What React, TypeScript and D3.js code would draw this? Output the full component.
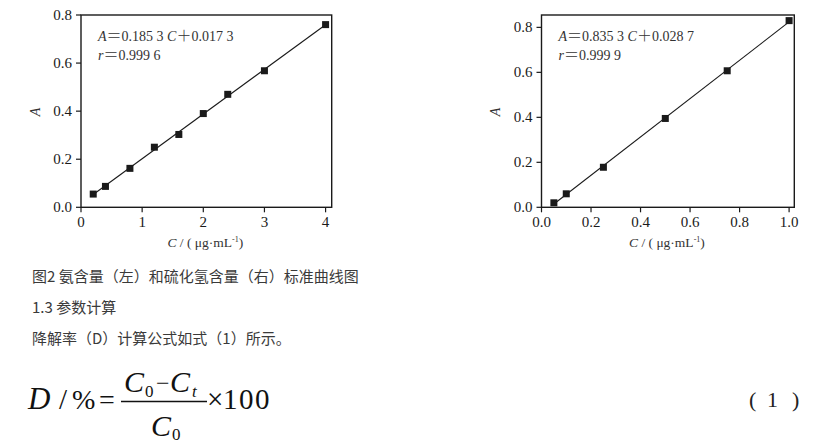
import React from "react";
import * as d3 from "d3";

const leftC = [0.2, 0.4, 0.8, 1.2, 1.6, 2.0, 2.4, 3.0, 4.0];
const leftA = [0.055, 0.087, 0.162, 0.25, 0.303, 0.39, 0.47, 0.568, 0.76];
const leftXTicks = [0, 1, 2, 3, 4];
const leftYTicks = [0, 0.2, 0.4, 0.6, 0.8];

const rightC = [0.05, 0.1, 0.25, 0.5, 0.75, 1.0];
const rightA = [0.02, 0.06, 0.178, 0.395, 0.607, 0.83];
const rightXTicks = [0, 0.2, 0.4, 0.6, 0.8, 1.0];
const rightYTicks = [0, 0.2, 0.4, 0.6, 0.8];

const SERIF = "'Liberation Serif', 'Times New Roman', serif";
const SANS = "'Noto Sans CJK SC', 'Noto Sans', sans-serif";

function fit(xs: number[], ys: number[]) {
  const mx = d3.mean(xs)!;
  const my = d3.mean(ys)!;
  const sxy = d3.sum(xs, (v, i) => (v - mx) * (ys[i] - my));
  const sxx = d3.sum(xs, (v) => (v - mx) * (v - mx));
  const b = sxy / sxx;
  return { slope: b, intercept: my - b * mx };
}

type PanelProps = {
  C: number[];
  A: number[];
  xTicks: number[];
  yTicks: number[];
  xDomain: [number, number];
  yDomain: [number, number];
  xRange: [number, number];
  yRange: [number, number];
  xFmt: (v: number) => string;
  eq: [string, string];
  r: string;
  yLabelX: number;
};

function Sym({ ch }: { ch: string }) {
  return (
    <tspan fontFamily={SANS} fontWeight={300} fontSize={15}>
      {ch}
    </tspan>
  );
}

function Panel(p: PanelProps) {
  const x = d3.scaleLinear().domain(p.xDomain).range(p.xRange);
  const y = d3.scaleLinear().domain(p.yDomain).range(p.yRange);
  const [x0, x1] = p.xRange;
  const [yb, yt] = p.yRange;
  const { slope, intercept } = fit(p.C, p.A);
  const cMin = d3.min(p.C)!;
  const cMax = d3.max(p.C)!;
  const line = d3
    .line<number>()
    .x((c) => x(c))
    .y((c) => y(slope * c + intercept));
  const ink = "#1a1a1a";
  const s = 7;
  return (
    <g>
      <path d={line([cMin, cMax]) || ""} stroke={ink} strokeWidth={1.1} fill="none" />
      {p.C.map((c, i) => (
        <rect key={i} x={x(c) - s / 2} y={y(p.A[i]) - s / 2} width={s} height={s} fill={ink} />
      ))}
      <rect x={x0} y={yt} width={x1 - x0} height={yb - yt} fill="none" stroke={ink} strokeWidth={1.4} />
      {p.xTicks.map((t) => (
        <g key={"x" + t}>
          <line x1={x(t)} x2={x(t)} y1={yb} y2={yb + 5} stroke={ink} strokeWidth={1.2} />
          <text x={x(t)} y={yb + 20} textAnchor="middle" fontFamily={SERIF} fontSize={15} fill={ink}>
            {p.xFmt(t)}
          </text>
        </g>
      ))}
      {p.yTicks.map((t) => (
        <g key={"y" + t}>
          <line x1={x0} x2={x0 - 5} y1={y(t)} y2={y(t)} stroke={ink} strokeWidth={1.2} />
          <text x={x0 - 9} y={y(t) + 5} textAnchor="end" fontFamily={SERIF} fontSize={15} fill={ink}>
            {t.toFixed(1)}
          </text>
        </g>
      ))}
      <text x={x0 + 17} y={41} fontFamily={SERIF} fontSize={14} fill="#333">
        <tspan fontStyle="italic">A</tspan>
        <Sym ch="＝" />
        <tspan>{p.eq[0]} </tspan>
        <tspan fontStyle="italic">C</tspan>
        <Sym ch="＋" />
        <tspan>{p.eq[1]}</tspan>
      </text>
      <text x={x0 + 17} y={60} fontFamily={SERIF} fontSize={14} fill="#333">
        <tspan fontStyle="italic">r</tspan>
        <Sym ch="＝" />
        <tspan>{p.r}</tspan>
      </text>
      <text
        transform={`translate(${p.yLabelX},112) rotate(-90)`}
        textAnchor="middle"
        fontFamily={SERIF}
        fontStyle="italic"
        fontSize={14}
        fill="#333"
      >
        A
      </text>
      <text x={(x0 + x1) / 2 - 1} y={247} textAnchor="middle" fontFamily={SERIF} fontSize={13.5} fill="#333">
        <tspan fontStyle="italic">C</tspan>
        <tspan> / ( μg·mL</tspan>
        <tspan dy={-5} fontSize={8}>-1</tspan>
        <tspan dy={5}>)</tspan>
      </text>
    </g>
  );
}

type Piece = { t: string; x: number; y: number; size: number; italic?: boolean; ls?: number };
const formulaPieces: Piece[] = [
  { t: "D", x: 28, y: 409, size: 31, italic: true },
  { t: "/", x: 59, y: 409, size: 29 },
  { t: "%", x: 72, y: 409, size: 28 },
  { t: "=", x: 99, y: 409, size: 28 },
  { t: "C", x: 124, y: 392, size: 30, italic: true },
  { t: "0", x: 145, y: 397, size: 17 },
  { t: "−", x: 156, y: 391, size: 24 },
  { t: "C", x: 170, y: 392, size: 30, italic: true },
  { t: "t", x: 192, y: 397, size: 17, italic: true },
  { t: "C", x: 151, y: 436, size: 30, italic: true },
  { t: "0", x: 172, y: 440, size: 17 },
  { t: "×", x: 207, y: 409, size: 29 },
  { t: "100", x: 223, y: 409, size: 29, ls: 1.5 },
];

export default function App() {
  return (
    <svg
      width={825}
      height={444}
      style={{ position: "absolute", left: 0, top: 0, background: "#fff" }}
    >
      <rect width={825} height={444} fill="#fff" />
      <Panel
        C={leftC}
        A={leftA}
        xTicks={leftXTicks}
        yTicks={leftYTicks}
        xDomain={[0, 4.1]}
        yDomain={[0, 0.8]}
        xRange={[81, 331.7]}
        yRange={[207.3, 15]}
        xFmt={(v) => d3.format("d")(v)}
        eq={["0.185 3 ", "0.017 3"]}
        r="0.999 6"
        yLabelX={40}
      />
      <Panel
        C={rightC}
        A={rightA}
        xTicks={rightXTicks}
        yTicks={rightYTicks}
        xDomain={[0, 1.021]}
        yDomain={[0, 0.855]}
        xRange={[541.5, 794.3]}
        yRange={[207.3, 15]}
        xFmt={(v) => v.toFixed(1)}
        eq={["0.835 3 ", "0.028 7"]}
        r="0.999 9"
        yLabelX={500}
      />
      <g fontFamily={SANS} fontSize={15} fill="#3a3a3a">
        <text x={32} y={282}>图2 氨含量（左）和硫化氢含量（右）标准曲线图</text>
        <text x={32} y={313}>1.3 参数计算</text>
        <text x={32} y={344}>降解率（D）计算公式如式（1）所示。</text>
      </g>
      <g fontFamily={SERIF} fill="#111">
        {formulaPieces.map((p, i) => (
          <text
            key={i}
            x={p.x}
            y={p.y}
            fontSize={p.size}
            fontStyle={p.italic ? "italic" : "normal"}
            letterSpacing={p.ls || 0}
          >
            {p.t}
          </text>
        ))}
        <line x1={121} x2={207} y1={401.5} y2={401.5} stroke="#111" strokeWidth={1.4} />
      </g>
      <g fontFamily={SERIF} fontSize={22} fill="#222">
        <text x={749} y={407}>(</text>
        <text x={767} y={407}>1</text>
        <text x={792} y={407}>)</text>
      </g>
    </svg>
  );
}
